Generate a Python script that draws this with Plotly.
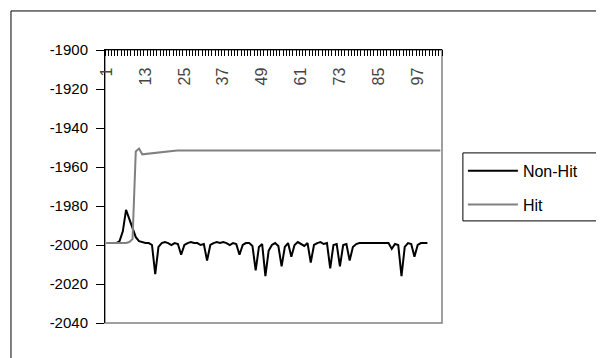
import plotly.graph_objects as go

# Category labels shown on the x axis
tick_labels = [1, 13, 25, 37, 49, 61, 73, 85, 97]

non_hit = [
    -1999, -1999, -1999, -1999, -1998, -1993, -1982, -1987, -1992, -1996,
    -1998, -1998.5, -1999, -1999, -2000, -2015, -2001, -1999, -1998.5, -1999,
    -2000, -1999, -1999.5, -2005, -2000, -1999, -1998.5, -1999, -1999, -2000,
    -1999.5, -2008, -2000, -1999, -1998.5, -1999, -1998.5, -1999, -2000, -1999,
    -1999.5, -2005, -2000, -1999, -1999, -2000.5, -2013, -2001, -1999.5, -2016,
    -2003, -2000, -1999, -2000.5, -2011, -2001, -1999, -2006, -2000, -1998.5,
    -1999.5, -2000.5, -1999, -2009, -2000, -1999, -1998.5, -1999.5, -1999, -2012,
    -2000, -1999.5, -2011, -2000, -1999.5, -2008, -2001, -1999.5, -1999, -1999,
    -1999, -1999, -1999, -1999, -1999, -1999, -1999, -1999, -2002, -1999.5,
    -2000, -2016, -2001, -1999, -1999.5, -2006, -2000, -1999, -1999, -1999,
]

hit = [
    -1999, -1999, -1999, -1999, -1999, -1999, -1999, -1998.5, -1997, -1952,
    -1950.5, -1953.5, -1953.3, -1953, -1952.8, -1952.6, -1952.4, -1952.2, -1952, -1951.9,
    -1951.8, -1951.7, -1951.6, -1951.5, -1951.5, -1951.5, -1951.5, -1951.5, -1951.5, -1951.5,
    -1951.5, -1951.5, -1951.5, -1951.5, -1951.5, -1951.5, -1951.5, -1951.5, -1951.5, -1951.5,
    -1951.5, -1951.5, -1951.5, -1951.5, -1951.5, -1951.5, -1951.5, -1951.5, -1951.5, -1951.5,
    -1951.5, -1951.5, -1951.5, -1951.5, -1951.5, -1951.5, -1951.5, -1951.5, -1951.5, -1951.5,
    -1951.5, -1951.5, -1951.5, -1951.5, -1951.5, -1951.5, -1951.5, -1951.5, -1951.5, -1951.5,
    -1951.5, -1951.5, -1951.5, -1951.5, -1951.5, -1951.5, -1951.5, -1951.5, -1951.5, -1951.5,
    -1951.5, -1951.5, -1951.5, -1951.5, -1951.5, -1951.5, -1951.5, -1951.5, -1951.5, -1951.5,
    -1951.5, -1951.5, -1951.5, -1951.5, -1951.5, -1951.5, -1951.5, -1951.5, -1951.5, -1951.5,
    -1951.5, -1951.5, -1951.5, -1951.5,
]

y_ticks = [-1900, -1920, -1940, -1960, -1980, -2000, -2020, -2040]
y_tick_text = ["-1900", "-1920", "-1940", "-1960", "-1980", "-2000", "-2020", "-2040"]

n_cat = max(len(non_hit), len(hit))
x_nh = list(range(1, len(non_hit) + 1))
x_hit = list(range(1, len(hit) + 1))

FONT = "Liberation Sans, Arial, sans-serif"

fig = go.Figure()
fig.add_trace(go.Scatter(x=x_nh, y=non_hit, mode="lines", name="Non-Hit",
                         legendgroup="a",
                         line=dict(color="#000000", width=2)))
fig.add_trace(go.Scatter(x=x_hit, y=hit, mode="lines", name="Hit",
                         legendgroup="b",
                         line=dict(color="#808080", width=2)))

fig.update_layout(
    width=596, height=350,
    margin=dict(l=97, r=162, t=42, b=35),
    paper_bgcolor="white", plot_bgcolor="white",
    font=dict(family=FONT, size=15, color="black"),
    showlegend=True,
    legend=dict(x=1.062, y=0.62, xanchor="left", yanchor="top",
                borderwidth=0, bgcolor="rgba(0,0,0,0)",
                font=dict(size=16), tracegroupgap=10,
                itemwidth=50, traceorder="grouped"),
    xaxis=dict(
        side="top", range=[0.5, n_cat + 0.5],
        tickmode="array", tickvals=tick_labels, ticktext=[str(v) for v in tick_labels],
        tickangle=-90, ticks="", ticklabelposition="inside",
        ticklabeloverflow="allow", ticklabelstandoff=9,
        showgrid=False, zeroline=False,
        showline=True, linecolor="black", linewidth=1,
        minor=dict(tickmode="linear", tick0=0.5, dtick=1, ticks="inside",
                   ticklen=6, tickcolor="black", showgrid=False),
        tickfont=dict(size=16),
    ),
    yaxis=dict(
        range=[-2040, -1900], tickmode="array", tickvals=y_ticks, ticktext=y_tick_text,
        ticks="outside", ticklen=8, tickcolor="black",
        ticklabeloverflow="allow", ticklabelstandoff=5,
        showgrid=False, zeroline=False,
        showline=True, linecolor="black", linewidth=1,
        tickfont=dict(size=15),
    ),
    shapes=[
        dict(type="rect", xref="paper", yref="paper", x0=0, y0=0, x1=1, y1=1,
             line=dict(color="#808080", width=1.5), layer="below"),
        dict(type="rect", xref="paper", yref="paper", x0=-0.279, y0=-0.3, x1=1.7, y1=1.143,
             line=dict(color="black", width=1), layer="below"),
        dict(type="rect", xref="paper", yref="paper", x0=1.062, y0=0.374, x1=1.7, y1=0.623,
             line=dict(color="black", width=1), layer="below"),
    ],
)

fig.write_html("out.html")
